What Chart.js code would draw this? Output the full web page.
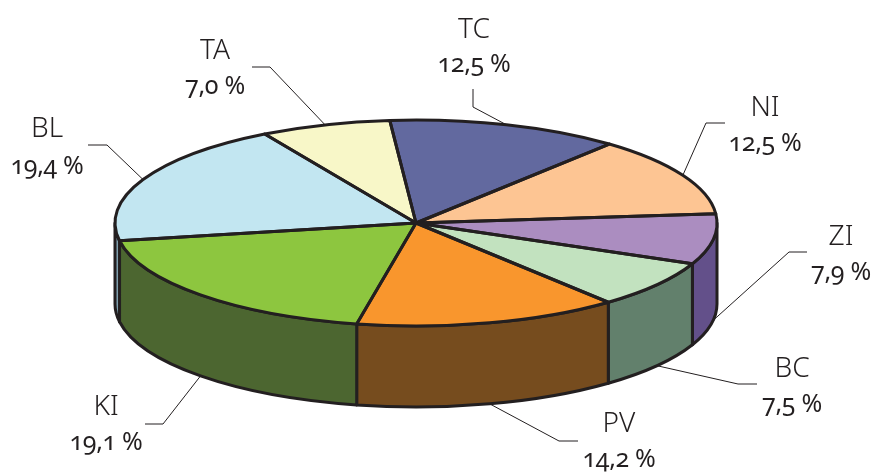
<!DOCTYPE html>
<html>
<head>
<meta charset="utf-8">
<style>
  html, body { margin: 0; padding: 0; background: #fff; }
  #wrap { position: relative; width: 875px; height: 472px; overflow: hidden; }
  #pie { position: absolute; left: 0; top: 0; }
  .lbl {
    position: absolute; transform: translateX(-50%); white-space: nowrap;
    font: 400 25px/30px "Noto Sans", sans-serif; color: #231f20;
    font-variant-numeric: oldstyle-nums;
    letter-spacing: -0.3px;
  }
  .lbl.name { font-size: 28px; font-weight: 300; letter-spacing: 0; }
</style>
</head>
<body>
<div id="wrap"><canvas id="pie" width="875" height="472"></canvas></div>
<script src="https://cdn.jsdelivr.net/npm/chart.js@4/dist/chart.umd.min.js"></script>
<script>
const categories = ["TC", "NI", "ZI", "BC", "PV", "KI", "BL", "TA"];
const shares = [12.5, 12.5, 7.9, 7.5, 14.2, 19.1, 19.4, 7.0];
const topColors = ["#62699f", "#fdc593", "#ab8dc0", "#c2e2bf", "#f9962d", "#8dc63f", "#c2e6f1", "#f8f7c8"];
const sideColors = ["#4c5280", "#c89a70", "#63508a", "#62806c", "#764c1e", "#4c6630", "#7f9fae", "#c0bf9a"];

// where each label sits: name baseline, value baseline, centre x, leader elbow and end
const labelLayout = [
  { x: 474, nameY: 36, valueY: 71, elbow: [473, 107], end: [473, 89] },
  { x: 765, nameY: 114, valueY: 150, elbow: [706, 123], end: [725, 123] },
  { x: 841, nameY: 243, valueY: 279, elbow: [789, 252], end: [807, 252] },
  { x: 792, nameY: 375, valueY: 411, elbow: [738, 384], end: [757, 384] },
  { x: 619, nameY: 430, valueY: 466, elbow: [559, 441], end: [578, 441] },
  { x: 106, nameY: 413, valueY: 449, elbow: [163, 424], end: [145, 424] },
  { x: 47, nameY: 135, valueY: 173, elbow: [107, 145], end: [88, 145] },
  { x: 215, nameY: 57, valueY: 93, elbow: [270, 67], end: [252, 67] },
];

const radiusX = 301;
const radiusY = 103;
const depth = 81;
const squash = radiusY / radiusX;
const edgeColor = "#231f20";

// normal pie squashed into an ellipse, the walls and outlines come from the arc angles
const tiltPlugin = {
  id: "tilt",
  beforeDatasetsDraw(chart) {
    const ctx = chart.ctx;
    const arcs = chart.getDatasetMeta(0).data;
    ctx.save();
    ctx.lineWidth = 3;
    ctx.strokeStyle = edgeColor;
    ctx.lineJoin = "round";
    arcs.forEach((arc, i) => {
      const a = Math.max(arc.startAngle, 0);
      const b = Math.min(arc.endAngle, Math.PI);
      if (b <= a) return;
      ctx.beginPath();
      ctx.ellipse(arc.x, arc.y, radiusX, radiusY, 0, a, b);
      ctx.ellipse(arc.x, arc.y + depth, radiusX, radiusY, 0, b, a, true);
      ctx.closePath();
      ctx.fillStyle = sideColors[i];
      ctx.fill();
      ctx.stroke();
    });
    ctx.restore();
  },
  beforeDatasetDraw(chart) {
    const ctx = chart.ctx;
    const arc = chart.getDatasetMeta(0).data[0];
    ctx.save();
    ctx.translate(arc.x, arc.y);
    ctx.scale(1, squash);
    ctx.translate(-arc.x, -arc.y);
  },
  afterDatasetDraw(chart) {
    chart.ctx.restore();
  },
  afterDatasetsDraw(chart) {
    const ctx = chart.ctx;
    const arcs = chart.getDatasetMeta(0).data;
    ctx.save();
    ctx.strokeStyle = edgeColor;
    ctx.lineJoin = "round";
    ctx.lineWidth = 3;
    arcs.forEach((arc) => {
      ctx.beginPath();
      ctx.moveTo(arc.x, arc.y);
      ctx.ellipse(arc.x, arc.y, radiusX, radiusY, 0, arc.startAngle, arc.endAngle);
      ctx.closePath();
      ctx.stroke();
    });
    ctx.lineWidth = 1;
    arcs.forEach((arc, i) => {
      const mid = (arc.startAngle + arc.endAngle) / 2;
      const front = Math.sin(mid) > 0;
      const l = labelLayout[i];
      ctx.beginPath();
      ctx.moveTo(arc.x + radiusX * Math.cos(mid), arc.y + radiusY * Math.sin(mid) + (front ? depth : 0));
      ctx.lineTo(l.elbow[0], l.elbow[1]);
      ctx.lineTo(l.end[0], l.end[1]);
      ctx.stroke();
    });
    ctx.restore();
  },
};

const ctx = document.getElementById("pie").getContext("2d");
new Chart(ctx, {
  type: "pie",
  data: {
    labels: categories,
    datasets: [
      {
        data: shares,
        backgroundColor: topColors,
        borderWidth: 0,
        clip: false,
      },
    ],
  },
  options: {
    responsive: false,
    animation: false,
    rotation: -5,
    radius: radiusX,
    layout: { padding: { right: 43, bottom: 26 } },
    plugins: {
      legend: { display: false },
      tooltip: { enabled: false },
    },
  },
  plugins: [tiltPlugin],
});

// labels are html so the digits can be old style
const wrap = document.getElementById("wrap");
function addLabel(text, x, baseline, cls) {
  const div = document.createElement("div");
  div.className = cls;
  div.textContent = text;
  div.style.left = x + "px";
  div.style.top = baseline - 24 + "px";
  wrap.appendChild(div);
}
categories.forEach((name, i) => {
  const l = labelLayout[i];
  addLabel(name, l.x, l.nameY, "lbl name");
  addLabel(shares[i].toFixed(1).replace(".", ",") + " %", l.x, l.valueY, "lbl");
});
</script>
</body>
</html>
